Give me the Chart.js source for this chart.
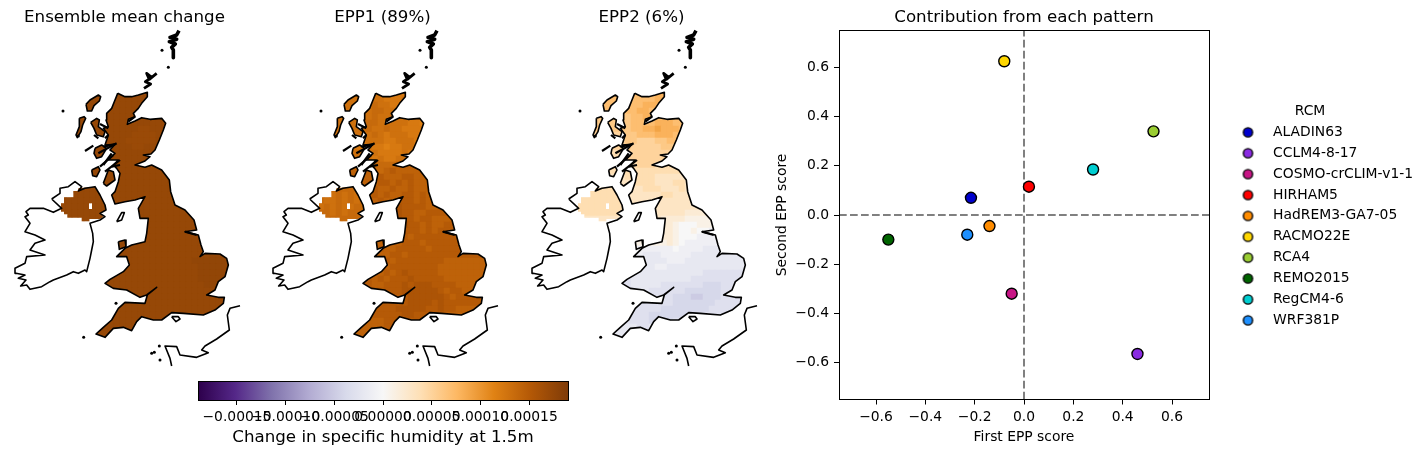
<!DOCTYPE html>
<html>
<head>
<meta charset="utf-8">
<script src="https://cdn.jsdelivr.net/npm/chart.js@4/dist/chart.umd.min.js"></script>
<style>
html,body{margin:0;padding:0;background:#fff;width:1427px;height:454px;overflow:hidden}
canvas{position:absolute;display:block}
</style>
</head>
<body>
<canvas id="map0" width="249" height="370" style="left:0;top:0"></canvas>
<canvas id="map1" width="249" height="370" style="left:258px;top:0"></canvas>
<canvas id="map2" width="249" height="370" style="left:517px;top:0"></canvas>
<canvas id="bar" width="400" height="84" style="left:180px;top:370px"></canvas>
<canvas id="score" width="667" height="454" style="left:760px;top:0"></canvas>
<script>
// ---------- scatter panel ----------
const rcmNames = ['ALADIN63','CCLM4-8-17','COSMO-crCLIM-v1-1','HIRHAM5','HadREM3-GA7-05','RACMO22E','RCA4','REMO2015','RegCM4-6','WRF381P'];
const firstScore  = [-0.215, 0.46, -0.05, 0.02, -0.14, -0.08, 0.525, -0.55, 0.28, -0.23];
const secondScore = [0.07, -0.565, -0.32, 0.115, -0.045, 0.625, 0.34, -0.10, 0.185, -0.08];
const rcmColours = ['#0000cd','#8a2be2','#c71585','#ff0000','#ff8c00','#ffd700','#9acd32','#006400','#00ced1','#1e90ff'];

// ---------- titles ----------
const mapTitles = ['Ensemble mean change','EPP1 (89%)','EPP2 (6%)'];

// ---------- colour scale (PuOr reversed) ----------
const cmapStops = ['#2d004b','#542788','#8073ac','#b2abd2','#d8daeb','#f7f7f7','#fee0b6','#fdb863','#e08214','#b35806','#7f3b08'];
const cbarLimit = 0.00019;

// ---------- gridded values: each letter is a level ----------
const valueLetters = 'abcdefghijklmnopqrstuvwx';
const meanLevels = {base:10.7, step:0.3};
const epp1Levels = {base:1, step:0.7};
const epp2Levels = {base:-5, step:1};
const meanRows = ['w','w','w','w','w','w','wwwwwwwwwwwwwvvw','wwwwwwwwwwwwvvvvw','wwwwwwwwwwwvvvvvw','wwwwwwwwwwwwvvww','w','w','w','w','w','w','w','w','w','w','w','w','w','w','w','w',
 'wwwwwwwwwwwwwwwwwwwwwwwwwxx','wwwwwwwwwwwwwwwwwwwwwwwwwxx','wwwwwwwwwwwwwwwwwwwwwwxxxxx','wwwwwwwwwwwwwwwwwwwwwwwxxxx','wwwwwwwwwwwwwwwwwwwwwwwxxxx','wwwwwwwwwwwwwwwwwwwwwwwxxxx','wwwwwwwwwwwwwwwwwwwwwwwwxxx','w','w','w','w','w','w','w','w','w','w'];
const epp1Rows = ['rrrrrrrrrrrsqqqq','rrrrrrrrrrrqqqrq','rrrrrrrrrsrrqqqq','rrrrrrrrrssrrqqq','rrrrrrrrrsrrsrrr','rrrrrrrrssrrrrrqqpp','rrrrrrrrsrrsrrqqqqpq','rrrrrrrrrsrqrrrqqqp','qqqqqqqqrrrqqrrrqq','qqqqqqqqrqqpqqrrqq','rrrrrrrrqrqqqqrq','rrrrrrrrrqrqqrrr','sssssssstssssttt','tttttttttsstuttt','ttttttttttutttuut','ttttttttttuutututt','sssssssstuttuttuttt','rsrsrsrstututtuutut','srrsrsrsttuttuuutut','rsrsrrssttuuuvuuuut','ssrsrsssttttuvuuttuuu','ssssssstttttvvuutuuttt','tttttttttttttvvuututtuu','tttttttttttttvuuututuuu','tttttttttttttuutuuuuuuuu','ttttttttttttttuuutuuuuuu','ttttttttttuttuuuuutuuuuu','ttttttttttttuutuuuuuuuuu','ttttttttttuutuuuuuuuuttttt','tttttttttuttuuuuuuuutttttt','tttttttttututuvuuuuutttttt','uuuuuuuuututuuuvuuuuutttt','uuuuuuuuuttuuuvuvvvuuuuttt','uuuuuuuuuuuuuuvvvvvvutuut','uuuuuuuuuuuuuuuvvvvvvutuu','uuuuuuuuuuuuuuuvvvvuvuuuu','uuuuuuuuuuuuuvvvvvuuvuutt','tttttttttuuuuuvvuuuuttt','tttttttttttuuuu','tttttttttttu','ttttttttt','ttttttt','t'];
const epp2Rows = ['mmmmmmmmmmmmnnnm','mmmmmmmmmmmmmnnm','mmmmmmmmmmmnnnmm','mmmmmmmmmmnnmmmm','lllllllllmmnnmmm','lllllllllmmmmnnnmmm','lllllllllmmnnonnnmm','kkkkkkkkllmmmnnnmmll','kkkkkkkkllkkkllmmlk','kkkkkkkklkkkkkllkkk','jjjjjjjjkkkkkkkkkj','jjjjjjjjkkkkkkkkjj','jjjjjjjjjjkkkjjjj','jjjjjjjjjjjjjjjjjj','iiiiiiiijjjjjiiiiii','iiiiiiiiijjjjiiijjii','jjjjjjjjiiijjjiiijii','jjjjjjjjiiiiiijjiiii','jjjjjjjjiiiiiiiiiiii','jjjjjjjjiiiiiiiiiiii','jjjjjjjjiiiiiiiiiihhh','iiiiiiiiiiiiiihhhhggg','hhhhhhhhhhhhhhhhgfffgg','hhhhhhhhhhhhhhhhgffgffeee','gggggggggggggghhgfffeeeee','ggggggggggggggghgfeeeeeee','gggggggggfeeeeeefeeeedddd','eeeeeeeeeeedddeeeeedddddd','dddddddddddddddeeedddddddddd','dddddddddddddeedddddddddddd','dddddddddddddddddddddccccc','cccccccccddddddddddccccccc','cccccccccdddddcccccccbbbccc','ccccccccccddccccccbbbbbbccc','ccccccccccccccccbbbaabbbcc','ccccccccccccccccbbbbbbbccc','ccccccccccccccbbbbbbbbccc','ccccccccccccbbbbbbbbccc','ccccccccccccbbbbc','ddddddddddccd','ddddddddddd','ddddddd','d'];
const gridOriginX = 180, gridOriginY = 210, gridStep = 18, gridCols = 29;

// ---------- coastlines (map units) ----------
const coastGB = [[353,220],[375,230],[395,230],[415,225],[442,217],[442,230],[425,250],[415,265],[400,280],[405,290],[385,298],[382,313],[405,303],[425,293],[450,298],[485,295],[497,310],[490,330],[478,360],[465,390],[453,402],[430,405],[450,410],[435,423],[405,435],[435,442],[455,435],[485,450],[508,480],[512,515],[525,555],[555,570],[582,600],[590,630],[555,635],[595,645],[603,675],[610,695],[600,710],[615,700],[660,702],[680,715],[685,735],[675,770],[655,785],[645,810],[620,825],[655,832],[673,832],[670,850],[645,870],[610,885],[550,880],[515,878],[485,900],[460,900],[425,890],[410,905],[395,932],[370,922],[340,925],[315,952],[288,942],[310,922],[335,900],[355,865],[375,847],[435,850],[442,825],[470,802],[440,825],[420,832],[380,810],[340,805],[315,790],[330,778],[370,755],[388,735],[380,710],[350,710],[375,685],[395,675],[435,665],[440,640],[445,595],[420,595],[415,565],[435,530],[405,540],[375,545],[345,552],[335,525],[345,515],[355,485],[360,460],[350,445],[340,435],[355,420],[325,420],[345,400],[330,390],[345,373],[315,375],[325,345],[310,325],[325,320],[318,300],[320,280],[335,265],[345,240],[353,220]];
const coastIreland = [[155,537],[180,520],[180,505],[205,500],[225,485],[245,500],[235,513],[255,505],[285,500],[300,525],[315,555],[318,570],[300,580],[315,590],[300,600],[270,610],[278,640],[280,665],[275,690],[270,715],[260,755],[255,750],[235,760],[220,755],[200,765],[160,780],[150,785],[125,800],[90,808],[80,795],[62,798],[78,780],[55,775],[75,765],[48,760],[45,745],[75,730],[80,710],[135,705],[90,690],[105,670],[135,660],[105,645],[75,635],[90,610],[75,590],[85,585],[78,575],[90,565],[130,565],[160,577],[185,565],[155,537]];
const coastFrance = [[720,857],[690,865],[682,885],[688,930],[650,957],[615,978],[605,990],[625,998],[590,1012],[540,1005],[530,980],[495,978],[510,1015],[515,1038]];
const islandLewis = [[258,253],[270,240],[295,225],[302,230],[298,243],[282,257],[275,273],[262,273],[258,253]];
const islandUist = [[238,295],[252,290],[257,295],[248,315],[243,335],[232,353],[228,345],[238,320],[238,295]];
const islandSkye = [[272,307],[290,295],[298,300],[295,320],[315,335],[310,350],[290,345],[282,325],[272,307]];
const islandMull = [[285,385],[305,375],[320,385],[305,410],[290,415],[282,400],[285,385]];
const islandIslay = [[275,450],[295,440],[300,450],[290,470],[278,467],[275,450]];
const islandKintyre = [[310,490],[325,450],[340,455],[345,480],[320,498],[310,490]];
const islandAnglesey = [[355,665],[375,660],[378,680],[358,688],[355,665]];
const islandMan = [[350,605],[365,578],[373,578],[365,600],[350,605]];
const islandWight = [[515,890],[535,890],[540,897],[528,905],[515,890]];
const seaLochs = [[[255,393],[280,377]],[[310,435],[335,400]],[[315,455],[360,420]],[[335,440],[360,435]],[[300,440],[340,405]],[[295,400],[350,370]],[[310,380],[345,373]],[[315,355],[325,345]],[[385,305],[405,290]],[[300,312],[325,325]],[[282,345],[295,355]],[[555,635],[590,645]]];
const islesOrkney = [[470,160],[448,178],[440,160],[455,172],[436,185],[452,192],[432,205]];
const islesShetland = [[537,32],[530,45],[510,52],[530,58],[508,65],[526,72],[515,82],[520,90],[520,113]];
const smallIsles = [[486,91],[505,142],[189,273],[251,952],[348,850],[455,1000],[463,997],[480,1020],[478,978],[235,348]];
const niLand = [[192,532],[220,532],[220,513],[235,513],[235,505],[285,500],[300,525],[315,555],[318,570],[300,580],[310,590],[300,597],[268,597],[268,604],[245,604],[245,593],[202,593],[202,583],[192,583],[192,575],[183,575],[183,550],[192,550]];
const niHole = [[267,550],[276,550],[276,567],[267,567]];
const landShapes = [coastGB,niLand,niHole,islandLewis,islandUist,islandSkye,islandMull,islandIslay,islandKintyre,islandAnglesey];

const font = 'DejaVu Sans';
const tickSize = 13.89, titleSize = 16.67;
Chart.defaults.font.family = font;
Chart.defaults.color = '#000';
Chart.defaults.animation = false;
Chart.defaults.devicePixelRatio = 1;

function hex(c){return [1,3,5].map(i=>parseInt(c.substr(i,2),16));}
function valueColour(v){
  const t = Math.max(0,Math.min(1,(v+cbarLimit)/(2*cbarLimit)))*(cmapStops.length-1);
  const i = Math.min(cmapStops.length-2,Math.floor(t)), f=t-i;
  const a=hex(cmapStops[i]), b=hex(cmapStops[i+1]);
  return 'rgb('+a.map((x,k)=>Math.round(x+(b[k]-x)*f)).join(',')+')';
}
const pts = a => a.map(p=>({x:p[0],y:p[1]}));
const lineSet = (a,w) => ({data:pts(a),showLine:true,borderColor:'#000',borderWidth:w||1.6,pointRadius:0,fill:false,tension:0,order:1,borderJoinStyle:'round'});

const landClip = {
  id:'landClip',
  beforeDatasetDraw(chart,args){
    if(!chart.data.datasets[args.index].isCells) return;
    const c=chart.ctx,x=chart.scales.x,y=chart.scales.y;
    c.save(); c.beginPath();
    landShapes.forEach(s=>{s.forEach((p,i)=>{const X=x.getPixelForValue(p[0]),Y=y.getPixelForValue(p[1]); i?c.lineTo(X,Y):c.moveTo(X,Y);}); c.closePath();});
    c.clip('evenodd');
  },
  afterDatasetDraw(chart,args){ if(chart.data.datasets[args.index].isCells) chart.ctx.restore(); }
};

function drawMap(id,title,rows,levels){
  const cells=[],cols=[];
  rows.forEach((r,j)=>{ for(let i=0;i<gridCols;i++){
    const ch=r.charAt(Math.min(i,r.length-1));
    cells.push({x:gridOriginX+(i+.5)*gridStep,y:gridOriginY+(j+.5)*gridStep});
    cols.push(valueColour((levels.base+levels.step*valueLetters.indexOf(ch))*1e-5));
  }});
  const sets=[
    lineSet(coastGB),lineSet(coastIreland),lineSet(coastFrance),lineSet(islandLewis),lineSet(islandUist),lineSet(islandSkye),lineSet(islandMull),lineSet(islandIslay),lineSet(islandKintyre),lineSet(islandAnglesey),lineSet(islandMan),lineSet(islandWight),
    ...seaLochs.map(s=>lineSet(s,2.2)),lineSet(islesOrkney,2.8),lineSet(islesShetland,3.6),
    {data:pts(smallIsles),showLine:false,pointRadius:1.5,pointBackgroundColor:'#000',pointBorderWidth:0,order:1},
    {data:cells,isCells:true,showLine:false,pointStyle:'rect',pointRadius:4.6,pointBorderWidth:0,pointBackgroundColor:cols,order:2}
  ];
  new Chart(document.getElementById(id),{type:'scatter',data:{datasets:sets},plugins:[landClip],options:{
    responsive:false,layout:{padding:0,autoPadding:false},
    plugins:{legend:{display:false},tooltip:{enabled:false},title:{display:true,text:title,color:'#000',font:{family:font,size:titleSize,weight:'normal',lineHeight:1.2},padding:{top:8,bottom:0}}},
    scales:{x:{type:'linear',display:false,min:0,max:747},y:{type:'linear',display:false,reverse:true,min:24,max:1050}}
  }});
}
drawMap('map0',mapTitles[0],meanRows,meanLevels);
drawMap('map1',mapTitles[1],epp1Rows,epp1Levels);
drawMap('map2',mapTitles[2],epp2Rows,epp2Levels);

const frame = {id:'frame',afterDraw(chart){const a=chart.chartArea,c=chart.ctx;c.save();c.strokeStyle='#000';c.lineWidth=1;const L=Math.floor(a.left),T=Math.floor(a.top),R=Math.floor(a.right),B=Math.floor(a.bottom);c.strokeRect(L+.5,T+.5,R-L,B-T);c.restore();}};
const minus = s => s.replace('-','\u2212');

// colour bar
new Chart(document.getElementById('bar'),{type:'bar',data:{labels:[''],datasets:[{data:[[-cbarLimit,cbarLimit]],barPercentage:1,categoryPercentage:1,borderWidth:0,
  backgroundColor(ctx){const a=ctx.chart.chartArea; if(!a) return '#fff'; const g=ctx.chart.ctx.createLinearGradient(a.left,0,a.right,0); cmapStops.forEach((c,i)=>g.addColorStop(i/(cmapStops.length-1),c)); return g;}}]},
  plugins:[frame],options:{indexAxis:'y',responsive:false,layout:{padding:{left:18,right:12,top:11,bottom:0},autoPadding:false},
  plugins:{legend:{display:false},tooltip:{enabled:false}},
  scales:{y:{display:false},x:{type:'linear',min:-cbarLimit,max:cbarLimit,afterFit(s){s.height=54;},
    border:{display:false},grid:{drawOnChartArea:false,drawTicks:true,tickLength:5,tickColor:'#000',tickWidth:1},
    ticks:{stepSize:0.00005,includeBounds:false,autoSkip:false,maxRotation:0,minRotation:0,padding:4.5,color:'#000',font:{size:tickSize},callback:v=>minus(v.toFixed(5))},
    title:{display:true,text:'Change in specific humidity at 1.5m',color:'#000',font:{size:titleSize,lineHeight:1.2},padding:{top:0,bottom:6}}}}}});

// scatter
function legendDot(col){const k=document.createElement('canvas');k.width=13;k.height=13;const c=k.getContext('2d');c.beginPath();c.arc(6.5,6.5,4.6,0,Math.PI*2);c.fillStyle=col;c.fill();c.lineWidth=1.4;c.strokeStyle='#000';c.stroke();return k;}
const scoreSets = rcmNames.map((n,i)=>({label:n,data:[{x:firstScore[i],y:secondScore[i]}],showLine:false,pointRadius:5.5,pointBackgroundColor:rcmColours[i],pointBorderColor:'#000',pointBorderWidth:1.4,order:1}));
const dash = (a)=>({label:'',data:pts(a),showLine:true,borderColor:'#808080',borderWidth:2,borderDash:[7.7,3.3],pointRadius:0,order:2});
const legendPlace = {id:'legendPlace',
  beforeInit(chart){const l=chart.legend,f=l.fit; l.fit=function(){f.call(l); l.width=218;}; l.draw=function(){l._draw();};},
  afterLayout(chart){const l=chart.legend; l.left=1222.9-760; l.width=174.2; l.right=l.left+l.width; l.top+=3; l.bottom+=3;}
};
new Chart(document.getElementById('score'),{type:'scatter',data:{datasets:[...scoreSets,dash([[-0.75,0],[0.75,0]]),dash([[0,-0.75],[0,0.75]])]},plugins:[legendPlace,frame],options:{
  responsive:false,layout:{padding:0,autoPadding:false},
  plugins:{tooltip:{enabled:false},
    title:{display:true,fullSize:false,text:'Contribution from each pattern',color:'#000',font:{size:titleSize,weight:'normal',lineHeight:1.2},padding:{top:8,bottom:2.5}},
    legend:{position:'right',fullSize:false,title:{display:true,text:'RCM',color:'#000',font:{size:tickSize,lineHeight:1.2},padding:{top:3,bottom:-3}},
      labels:{usePointStyle:true,pointStyleWidth:36.2,padding:7,color:'#000',font:{size:tickSize,lineHeight:1.2},
        generateLabels:()=>rcmNames.map((n,i)=>({text:n,pointStyle:legendDot(rcmColours[i]),fillStyle:rcmColours[i],strokeStyle:'#000',lineWidth:1,hidden:false,datasetIndex:i}))}}},
  scales:{
    x:{type:'linear',min:-0.75,max:0.75,afterFit(s){s.height=54.5;},border:{display:false},grid:{drawOnChartArea:false,tickLength:5,tickColor:'#000',tickWidth:1},
      ticks:{stepSize:0.2,includeBounds:false,autoSkip:false,maxRotation:0,padding:5,color:'#000',font:{size:tickSize},callback:v=>minus(v.toFixed(1))},
      title:{display:true,text:'First EPP score',color:'#000',font:{size:tickSize,lineHeight:1.2},padding:{top:0,bottom:8}}},
    y:{type:'linear',min:-0.75,max:0.75,afterFit(s){s.width=79;},border:{display:false},grid:{drawOnChartArea:false,tickLength:5,tickColor:'#000',tickWidth:1},
      ticks:{stepSize:0.2,includeBounds:false,autoSkip:false,padding:5,color:'#000',font:{size:tickSize},callback:v=>minus(v.toFixed(1))},
      title:{display:true,text:'Second EPP score',color:'#000',font:{size:tickSize,lineHeight:1.2},padding:{top:14,bottom:0}}}
  }}});
</script>
</body>
</html>
